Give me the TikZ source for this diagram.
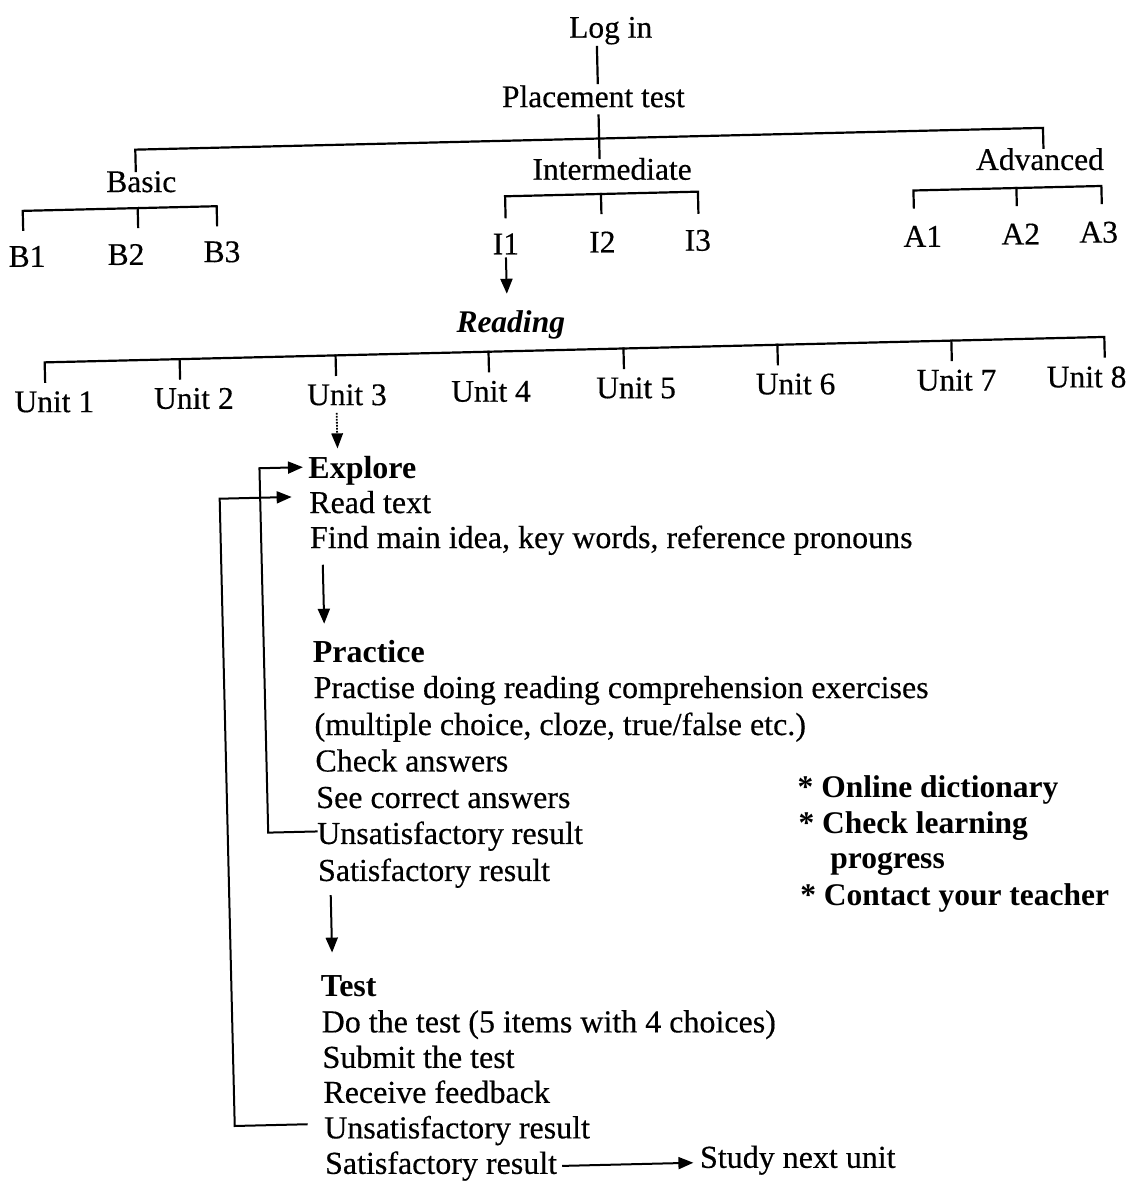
\documentclass[tikz,border=0pt]{standalone}
\usepackage{fontspec}
\setmainfont{Liberation Serif}[UprightFeatures={FakeBold=0.4}]
\usetikzlibrary{arrows.meta}
\begin{document}
\begin{tikzpicture}[x=1pt,y=-1pt,
  lbl/.style={font=\fontsize{31.5}{36}\selectfont, inner sep=0pt, anchor=base},
  flow/.style={font=\fontsize{32}{36}\selectfont, inner sep=0pt, anchor=base west},
  hdr/.style={flow, font=\fontsize{32}{36}\selectfont\bfseries},
  note/.style={font=\fontsize{31.5}{36}\selectfont\bfseries, inner sep=0pt, anchor=base west},
  wire/.style={line width=2.2pt, line cap=rect},
  arr/.style={line width=2pt, -{Triangle[length=15pt,width=12pt]}},
  dotarr/.style={line width=1.8pt, dash pattern=on 1.6pt off 1.4pt, -{Triangle[length=15pt,width=12pt,line width=0pt]}}
]
\useasboundingbox[fill=white] (0,0) rectangle (1127,1184);
% the whole chart sits slightly turned on the page
\begin{scope}[rotate around={1.375:(563,592)}]

% ---------- level tree ----------
\node[lbl] (login) at (624,39) {Log in};
\node[lbl] (placement) at (605,108) {Placement test};
\node[lbl] (basic) at (151,182) {Basic};
\node[lbl] (inter) at (622,181) {Intermediate};
\node[lbl] (adv) at (1050,181.5) {Advanced};

\coordinate (spine) at (610,139.5);
\coordinate (busL) at (146,139.5);
\coordinate (busR) at (1054,139.5);
\draw[wire, shorten <=2pt, shorten >=2pt] (login.south -| spine) -- (placement.north -| spine);
\draw[wire, shorten <=8pt] (placement.south -| spine) -- (inter.north -| spine);
\draw[wire] (basic.north -| busL) -- (busL) -- (busR) -- (adv.north -| busR);

% sub-levels
\node[lbl] (b1) at (35,254) {B1};
\node[lbl] (b2) at (134,254.5) {B2};
\node[lbl] (b3) at (230,254) {B3};
\node[lbl] (i1) at (514,253) {I1};
\node[lbl] (i2) at (610.5,253.5) {I2};
\node[lbl] (i3) at (706,254) {I3};
\node[lbl] (a1) at (931,255.5) {A1};
\node[lbl] (a2) at (1029,255.5) {A2};
\node[lbl] (a3) at (1107,255.5) {A3};

\coordinate (bkB1) at (32,198);
\coordinate (bkB) at (147,198);
\coordinate (bkB3) at (226,198);
\coordinate (b1t) at (32,217);
\coordinate (b2t) at (147,217);
\coordinate (b3t) at (226,217);
\draw[wire] (b1t) -- (bkB1) -- (bkB3) -- (b3t);
\draw[wire] (bkB) -- (b2t);

\coordinate (bkI1) at (514.6,195);
\coordinate (bkI) at (610.5,195);
\coordinate (bkI3) at (707.5,195);
\coordinate (i1t) at (514.6,216);
\coordinate (i2t) at (610.5,214);
\coordinate (i3t) at (707.5,216);
\draw[wire] (i1t) -- (bkI1) -- (bkI3) -- (i3t);
\draw[wire] (bkI) -- (i2t);

\coordinate (bkA1) at (923,199);
\coordinate (bkA) at (1026,199);
\coordinate (bkA3) at (1111,199);
\coordinate (a1t) at (923,216);
\coordinate (a2t) at (1026,216);
\coordinate (a3t) at (1111,216);
\draw[wire] (a1t) -- (bkA1) -- (bkA3) -- (a3t);
\draw[wire] (bkA) -- (a2t);

% ---------- skill and units ----------
\node[lbl, font=\fontsize{31.5}{36}\selectfont\bfseries\itshape] (reading) at (517,331) {Reading};
\coordinate (rdin) at (514,292.5);
\draw[arr, shorten <=3pt] (i1.south) -- (rdin);

\node[lbl] (u1) at (58.8,400) {Unit 1};
\node[lbl] (u2) at (198.4,400) {Unit 2};
\node[lbl] (u3) at (351.5,400) {Unit 3};
\node[lbl] (u4) at (495.6,400) {Unit 4};
\node[lbl] (u5) at (640.7,400) {Unit 5};
\node[lbl] (u6) at (800.2,400) {Unit 6};
\node[lbl] (u7) at (961.3,400) {Unit 7};
\node[lbl] (u8) at (1091.4,400) {Unit 8};

\foreach \k/\x in {1/50.3,2/185.3,3/341.3,4/494.3,5/629.3,6/783.3,7/957.3,8/1110.3}{
  \coordinate (t\k) at (\x,369.5);
  \coordinate (ub\k) at (\x,350);
}
\draw[wire] (t1) -- (ub1) -- (ub8) -- (t8);
\foreach \k in {2,...,7} \draw[wire] (t\k) -- (ub\k);

% ---------- unit activities ----------
\node[hdr] (explore) at (311,472) {Explore};
\node[flow] (readtext) at (311,507) {Read text};
\node[flow] (findidea) at (311,542) {Find main idea, key words, reference pronouns};

\node[hdr] (practice) at (311,656) {Practice};
\node[flow] (pr1) at (311,692) {Practise doing reading comprehension exercises};
\node[flow] (pr2) at (311,729) {(multiple choice, cloze, true/false etc.)};
\node[flow] (pr3) at (311,765.5) {Check answers};
\node[flow] (pr4) at (311,802) {See correct answers};
\node[flow] (pr5) at (311,838) {Unsatisfactory result};
\node[flow] (pr6) at (311,875) {Satisfactory result};

\node[hdr] (test) at (311,991) {Test};
\node[flow] (te1) at (311,1026.5) {Do the test (5 items with 4 choices)};
\node[flow] (te2) at (311,1062) {Submit the test};
\node[flow] (te3) at (311,1097) {Receive feedback};
\node[flow] (te4) at (311,1132.5) {Unsatisfactory result};
\node[flow] (te5) at (311,1168) {Satisfactory result};
\node[flow] (study) at (686,1171) {Study next unit};

% unit 3 opens its activities
\coordinate (u3out) at (341,407.6);
\coordinate (exin) at (341,443);
\draw[dotarr] (u3out) -- (exin);

% stage to stage
\coordinate (s1a) at (323.5,559);
\coordinate (s1b) at (323.5,618);
\coordinate (s2a) at (323.5,889.5);
\coordinate (s2b) at (323.5,947);
\draw[arr] (s1a) -- (s1b);
\draw[arr] (s2a) -- (s2b);

% loops back
\coordinate (pA) at (312,825.5);
\coordinate (pB) at (262.5,825.5);
\coordinate (pC) at (262.5,461);
\coordinate (pD) at (306,461);
\draw[arr] (pA) -- (pB) -- (pC) -- (pD);
\coordinate (tA) at (295,1118);
\coordinate (tB) at (222,1118);
\coordinate (tC) at (222,490.5);
\coordinate (tD) at (294,490.5);
\draw[arr] (tA) -- (tB) -- (tC) -- (tD);

% next unit
\draw[arr, shorten <=5pt, shorten >=6.5pt] (te5.east) -- (study.west |- te5.east);

% ---------- tools ----------
\node[note] (n1) at (792.5,803) {* Online dictionary};
\node[note] (n2) at (792.5,839.5) {* Check learning};
\node[note] (n3) at (823.5,875) {progress};
\node[note] (n4) at (792.5,911) {* Contact your teacher};

\end{scope}
\end{tikzpicture}
\end{document}
